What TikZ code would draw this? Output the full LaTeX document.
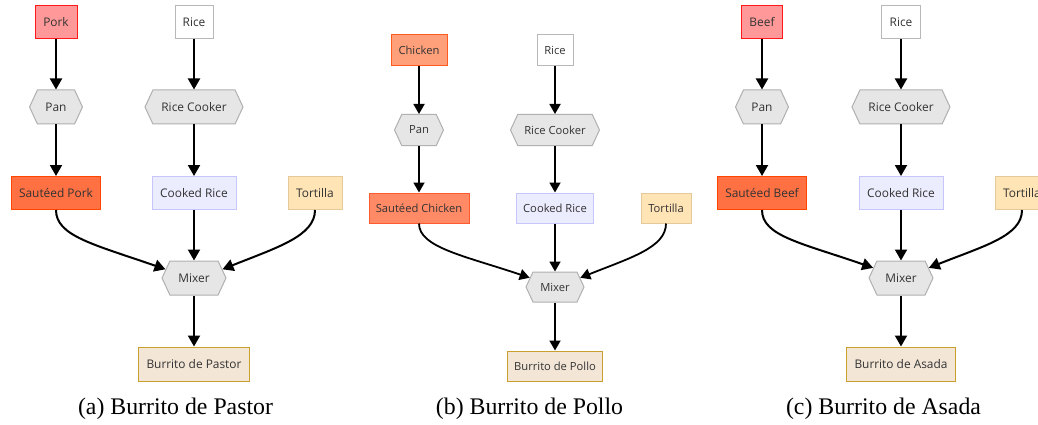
\documentclass[tikz,border=0pt]{standalone}
\usepackage{fontspec}
\setmainfont{Liberation Serif}
\newfontfamily\osans{Open Sans}
\usetikzlibrary{shapes.symbols,arrows.meta}

\definecolor{txt}{HTML}{333333}
\definecolor{rawfill}{HTML}{FF9999}
\definecolor{rawline}{HTML}{FF1A1A}
\definecolor{chkfill}{HTML}{FFA07A}
\definecolor{chkline}{HTML}{FF5A1F}
\definecolor{sautfill}{HTML}{FF7043}
\definecolor{sautline}{HTML}{FF4500}
\definecolor{schkfill}{HTML}{FF8A65}
\definecolor{schkline}{HTML}{FF5A30}
\definecolor{riceline}{HTML}{B8B8B8}
\definecolor{hexfill}{HTML}{E6E6E6}
\definecolor{hexline}{HTML}{B0B0B0}
\definecolor{cookfill}{HTML}{ECECFF}
\definecolor{cookline}{HTML}{C6C6FA}
\definecolor{tortfill}{HTML}{FFE4B5}
\definecolor{tortline}{HTML}{E6C99A}
\definecolor{burfill}{HTML}{F3E6D6}
\definecolor{burline}{HTML}{C9A030}

\tikzset{
  box/.style={draw, line width=1pt, text=txt, inner sep=0pt, rectangle},
  hexa/.style={box, signal, signal to=east and west, signal pointer angle=130,
    fill=hexfill, draw=hexline},
  rawbox/.style={box, fill=rawfill, draw=rawline},
  chkbox/.style={box, fill=chkfill, draw=chkline},
  sautbox/.style={box, fill=sautfill, draw=sautline},
  schkbox/.style={box, fill=schkfill, draw=schkline},
  ricebox/.style={box, fill=white, draw=riceline},
  cookbox/.style={box, fill=cookfill, draw=cookline},
  tortbox/.style={box, fill=tortfill, draw=tortline},
  burbox/.style={box, fill=burfill, draw=burline},
  flow/.style={line width=2pt, black, -{Triangle[length=11pt,width=12pt]}},
  flowsm/.style={line width=1.8pt, black, -{Triangle[length=10pt,width=11pt]}},
  caption/.style={font=\fontsize{23.8}{28}\selectfont, anchor=base, text=black},
  big/.style={font=\osans\fontsize{11.9}{14}\selectfont},
  small/.style={font=\osans\fontsize{11.2}{13}\selectfont}
}

\begin{document}
\begin{tikzpicture}[x=1pt,y=-1pt]
\clip (0,0) rectangle (1038,425);
\fill[white] (0,0) rectangle (1038,425);

% ---------- (a) Burrito de Pastor ----------
\begin{scope}[big]
\node[rawbox, minimum width=42pt, minimum height=33pt] (aM) at (56,22) {Pork};
\node[ricebox, minimum width=38pt, minimum height=33pt] (aR) at (194,22) {Rice};
\node[hexa, minimum width=53pt, minimum height=34pt] (aP) at (56,107) {Pan};
\node[hexa, minimum width=98pt, minimum height=34pt] (aC) at (194,107) {Rice Cooker};
\node[sautbox, minimum width=89pt, minimum height=33pt] (aS) at (56,193) {Sautéed Pork};
\node[cookbox, minimum width=84pt, minimum height=33pt] (aK) at (194,193) {Cooked Rice};
\node[tortbox, minimum width=54pt, minimum height=33pt] (aT) at (315,193) {Tortilla};
\node[hexa, minimum width=64pt, minimum height=34pt] (aX) at (194,278) {Mixer};
\node[burbox, minimum width=111pt, minimum height=34pt] (aB) at (194,364) {Burrito de Pastor};
\end{scope}
\draw[flow] (aM.south) -- (aP.north);
\draw[flow] (aP.south) -- (aS.north);
\draw[flow] (aR.south) -- (aC.north);
\draw[flow] (aC.south) -- (aK.north);
\draw[flow] (aK.south) -- (aX.north);
\draw[flow] (aX.south) -- (aB.north);
\draw[flow] (aS.south) .. controls +(0,26) and +(-72,-25) .. (aX.163);
\draw[flow] (aT.south) .. controls +(0,26) and +(55,-22) .. (aX.17);
\node[caption] (aCap) at (175.5,414) {(a) Burrito de Pastor};

% ---------- (b) Burrito de Pollo ----------
\begin{scope}[small]
\node[chkbox, minimum width=56pt, minimum height=31pt] (bM) at (419,50) {Chicken};
\node[ricebox, minimum width=36pt, minimum height=31pt] (bR) at (555,50) {Rice};
\node[hexa, minimum width=49pt, minimum height=31pt] (bP) at (419,130) {Pan};
\node[hexa, minimum width=89pt, minimum height=31pt] (bC) at (555,130) {Rice Cooker};
\node[schkbox, minimum width=100pt, minimum height=30pt] (bS) at (419,208) {Sautéed Chicken};
\node[cookbox, minimum width=77pt, minimum height=30pt] (bK) at (555,208) {Cooked Rice};
\node[tortbox, minimum width=50pt, minimum height=30pt] (bT) at (666,208) {Tortilla};
\node[hexa, minimum width=58pt, minimum height=30pt] (bX) at (555,287) {Mixer};
\node[burbox, minimum width=95pt, minimum height=30pt] (bB) at (555,366) {Burrito de Pollo};
\end{scope}
\draw[flowsm] (bM.south) -- (bP.north);
\draw[flowsm] (bP.south) -- (bS.north);
\draw[flowsm] (bR.south) -- (bC.north);
\draw[flowsm] (bC.south) -- (bK.north);
\draw[flowsm] (bK.south) -- (bX.north);
\draw[flowsm] (bX.south) -- (bB.north);
\draw[flowsm] (bS.south) .. controls +(0,24) and +(-65,-22) .. (bX.160);
\draw[flowsm] (bT.south) .. controls +(0,24) and +(50,-20) .. (bX.20);
\node[caption] (bCap) at (529.5,414) {(b) Burrito de Pollo};

% ---------- (c) Burrito de Asada ----------
\begin{scope}[big]
\node[rawbox, minimum width=41pt, minimum height=33pt] (cM) at (762,22) {Beef};
\node[ricebox, minimum width=39pt, minimum height=33pt] (cR) at (901,22) {Rice};
\node[hexa, minimum width=53pt, minimum height=34pt] (cP) at (762,107) {Pan};
\node[hexa, minimum width=98pt, minimum height=34pt] (cC) at (901,107) {Rice Cooker};
\node[sautbox, minimum width=89pt, minimum height=33pt] (cS) at (762,193) {Sautéed Beef};
\node[cookbox, minimum width=84pt, minimum height=33pt] (cK) at (901,193) {Cooked Rice};
\node[tortbox, minimum width=54pt, minimum height=33pt] (cT) at (1022,193) {Tortilla};
\node[hexa, minimum width=64pt, minimum height=34pt] (cX) at (901,278) {Mixer};
\node[burbox, minimum width=109pt, minimum height=34pt] (cB) at (901,364) {Burrito de Asada};
\end{scope}
\draw[flow] (cM.south) -- (cP.north);
\draw[flow] (cP.south) -- (cS.north);
\draw[flow] (cR.south) -- (cC.north);
\draw[flow] (cC.south) -- (cK.north);
\draw[flow] (cK.south) -- (cX.north);
\draw[flow] (cX.south) -- (cB.north);
\draw[flow] (cS.south) .. controls +(0,26) and +(-72,-25) .. (cX.160);
\draw[flow] (cT.south) .. controls +(0,26) and +(55,-22) .. (cX.20);
\node[caption] (cCap) at (883.5,414) {(c) Burrito de Asada};
\end{tikzpicture}
\end{document}
